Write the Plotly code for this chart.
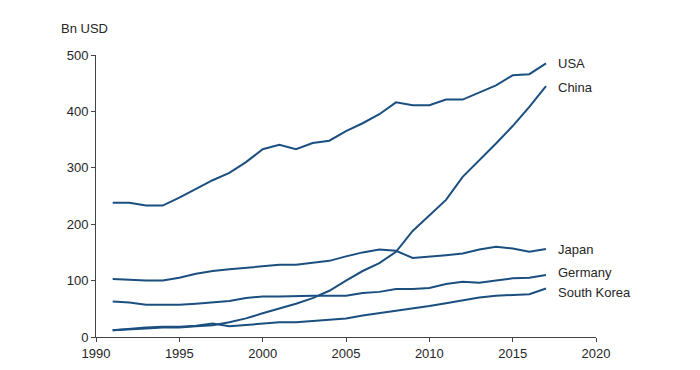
import plotly.graph_objects as go

years = list(range(1991, 2018))
usa = [238, 238, 233, 233, 247, 263, 278, 291, 310, 333, 341, 333, 344, 348, 365, 379, 395, 416, 411, 411, 421, 421, 433, 446, 464, 466, 485]
china = [12, 13, 15, 17, 17, 19, 21, 26, 33, 42, 50, 59, 69, 82, 100, 117, 131, 151, 188, 216, 243, 284, 313, 343, 374, 408, 445]
japan = [103, 101, 100, 100, 105, 112, 117, 120, 123, 126, 128, 128, 132, 135, 143, 150, 155, 153, 140, 142, 145, 148, 155, 160, 157, 151, 156]
germany = [63, 61, 57, 57, 57, 59, 62, 64, 69, 72, 72, 73, 73, 73, 73, 78, 80, 85, 85, 87, 94, 98, 96, 100, 104, 105, 110]
korea = [12, 15, 17, 18, 18, 20, 24, 19, 21, 23, 26, 26, 28, 31, 33, 38, 42, 46, 50, 55, 60, 65, 70, 73, 75, 76, 86]

series = [("USA", usa, 485), ("China", china, 443), ("Japan", japan, 155),
          ("Germany", germany, 115), ("South Korea", korea, 79)]

line_color = "#1b4f80"
text_color = "#262626"
font_family = "Liberation Sans, Arial, sans-serif"

fig = go.Figure()
for name, vals, _ in series:
    fig.add_trace(go.Scatter(x=years, y=vals, mode="lines", name=name,
                             line=dict(color=line_color, width=2)))

for name, vals, ly in series:
    fig.add_annotation(x=years[-1], y=ly, text=name, showarrow=False,
                       xanchor="left", xshift=10, yanchor="middle",
                       font=dict(size=13, color=text_color, family=font_family))

fig.add_annotation(x=0, y=1, xref="paper", yref="paper", text="Bn USD",
                   showarrow=False, xanchor="left", yanchor="middle",
                   xshift=-37, yshift=27,
                   font=dict(size=13, color=text_color, family=font_family))

fig.update_layout(
    width=700, height=370,
    margin=dict(l=88, r=112, t=47, b=41),
    paper_bgcolor="white", plot_bgcolor="white",
    showlegend=False,
    font=dict(family=font_family, size=13, color=text_color),
    xaxis=dict(range=[1990, 2020], tickvals=[1990, 1995, 2000, 2005, 2010, 2015, 2020],
               showgrid=False, zeroline=False, showline=True, linecolor="#444444",
               linewidth=1, ticks="outside", ticklen=4, tickcolor="#444444"),
    yaxis=dict(range=[0, 500], tickvals=[0, 100, 200, 300, 400, 500],
               showgrid=False, zeroline=False, showline=True, linecolor="#444444",
               linewidth=1, ticks="outside", ticklen=4, tickcolor="#444444"),
)

fig.write_html("out.html")
